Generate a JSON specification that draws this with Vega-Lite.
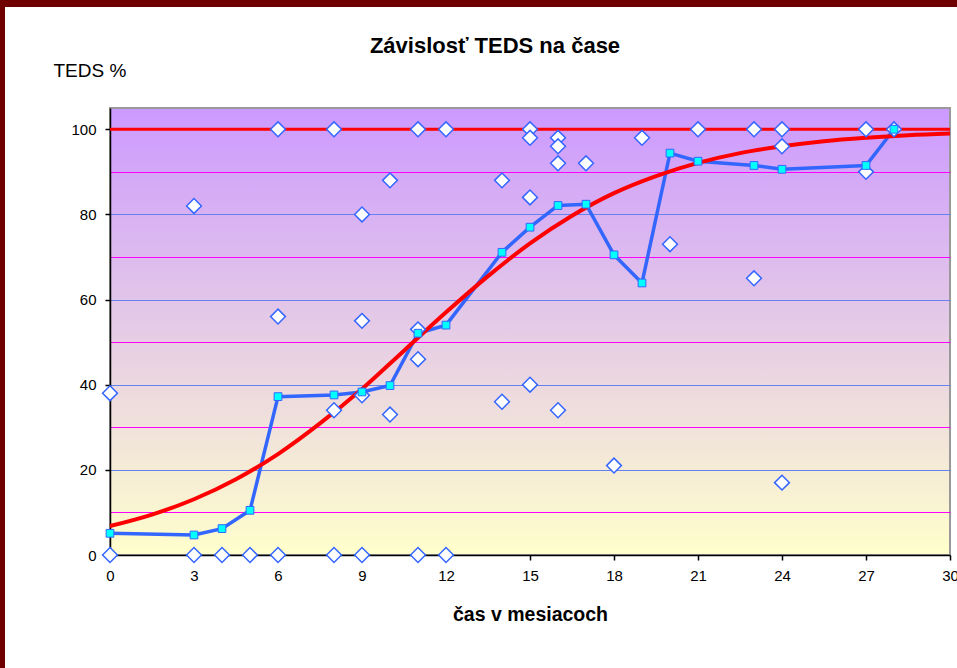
{
  "$schema": "https://vega.github.io/schema/vega-lite/v6.json",
  "padding": 0,
  "background": "white",
  "spacing": 0,
  "config": {"font": "Liberation Sans", "view": {"stroke": null}},
  "datasets": {
    "raw": [
      {"t":0,"v":0},{"t":0,"v":38},{"t":3,"v":82},{"t":3,"v":0},{"t":4,"v":0},{"t":5,"v":0},
      {"t":6,"v":100},{"t":6,"v":56},{"t":6,"v":0},{"t":8,"v":100},{"t":8,"v":34},{"t":8,"v":0},
      {"t":9,"v":80},{"t":9,"v":55},{"t":9,"v":37.5},{"t":9,"v":0},{"t":10,"v":88},{"t":10,"v":33},
      {"t":11,"v":100},{"t":11,"v":53},{"t":11,"v":46},{"t":11,"v":0},{"t":12,"v":100},{"t":12,"v":0},
      {"t":14,"v":88},{"t":14,"v":36},{"t":15,"v":100},{"t":15,"v":98},{"t":15,"v":84},{"t":15,"v":40},
      {"t":16,"v":98},{"t":16,"v":96},{"t":16,"v":92},{"t":16,"v":34},{"t":17,"v":92},{"t":18,"v":21},
      {"t":19,"v":98},{"t":20,"v":73},{"t":21,"v":100},{"t":23,"v":100},{"t":23,"v":65},
      {"t":24,"v":100},{"t":24,"v":96},{"t":24,"v":17},{"t":27,"v":100},{"t":27,"v":90},{"t":28,"v":100}
    ],
    "avg": [
      {"t":0,"v":5.1},{"t":3,"v":4.7},{"t":4,"v":6.2},{"t":5,"v":10.5},{"t":6,"v":37.2},{"t":8,"v":37.6},
      {"t":9,"v":38.3},{"t":10,"v":39.8},{"t":11,"v":52.1},{"t":12,"v":54},{"t":14,"v":71.1},{"t":15,"v":77},
      {"t":16,"v":82.1},{"t":17,"v":82.4},{"t":18,"v":70.5},{"t":19,"v":63.9},{"t":20,"v":94.4},{"t":21,"v":92.5},
      {"t":23,"v":91.5},{"t":24,"v":90.6},{"t":27,"v":91.5},{"t":28,"v":100}
    ],
    "fit": [
      {"t":0,"v":6.8},{"t":1.5,"v":9.5},{"t":3,"v":13.1},{"t":4.5,"v":17.8},{"t":6,"v":23.7},{"t":7.5,"v":30.9},
      {"t":9,"v":39.0},{"t":10.5,"v":48.0},{"t":12,"v":57.0},{"t":13.5,"v":65.5},{"t":15,"v":73.2},{"t":16.5,"v":79.7},
      {"t":18,"v":85.0},{"t":19.5,"v":89.0},{"t":21,"v":92.1},{"t":22.5,"v":94.4},{"t":24,"v":96.0},{"t":25.5,"v":97.2},
      {"t":27,"v":98.0},{"t":28.5,"v":98.6},{"t":30,"v":99.0}
    ],
    "limit": [{"v":100}]
  },
  "vconcat": [
    {
      "width": 957, "height": 7,
      "data": {"values": [{}]},
      "mark": {"type": "rect", "color": "#700000"},
      "view": {"fill": "#700000", "stroke": null}
    },
    {
      "spacing": 47,
      "hconcat": [
        {
          "width": 5, "height": 661,
          "data": {"values": [{}]},
          "mark": {"type": "rect", "color": "#700000"},
          "view": {"fill": "#700000", "stroke": null}
        },
        {
          "spacing": 26,
          "vconcat": [
            {
              "width": 840, "height": 1,
              "data": {"values": [{}]},
              "mark": {"type": "rect", "opacity": 0},
              "view": {"fill": null, "stroke": null}
            },
            {
              "width": 840, "height": 447,
              "title": {"text": "Závislosť TEDS na čase", "fontSize": 22, "fontWeight": "bold", "font": "Liberation Sans", "anchor": "middle", "frame": "group", "dx": -35, "offset": -14, "baseline": "alphabetic", "color": "black"},
              "view": {
                "fill": {"gradient": "linear", "x1": 0, "y1": 0, "x2": 0, "y2": 1, "stops": [{"offset": 0, "color": "#cc99ff"}, {"offset": 1, "color": "#ffffcc"}]},
                "stroke": "#999999", "strokeWidth": 2
              },
              "layer": [
                {
                  "data": {"name": "avg"},
                  "mark": {"type": "line", "color": "#3366ff", "strokeWidth": 3.5},
                  "encoding": {
                    "x": {"field": "t", "type": "quantitative", "scale": {"domain": [0, 30], "nice": false, "zero": false},
                      "axis": {"title": "čas v mesiacoch", "values": [0,3,6,9,12,15,18,21,24,27,30], "grid": false,
                        "domainColor": "black", "domainWidth": 1.5, "tickColor": "black", "tickSize": 5, "tickWidth": 1.5,
                        "labelFontSize": 15, "labelPadding": 8, "labelColor": "black", "labelFlush": false, "labelOverlap": false,
                        "titleFontSize": 19.5, "titleFontWeight": "bold", "titleColor": "black", "titleY": 65, "titleBaseline": "alphabetic"}},
                    "y": {"field": "v", "type": "quantitative", "scale": {"domain": [0, 105], "nice": false},
                      "axis": {"title": "TEDS %", "values": [0,10,20,30,40,50,60,70,80,90,100],
                        "labelExpr": "datum.value % 20 === 0 ? datum.label : ''",
                        "tickOpacity": {"condition": {"test": "datum.value % 20 === 0", "value": 1}, "value": 0},
                        "grid": true, "gridWidth": 1, "gridOpacity": 1,
                        "gridColor": {"condition": {"test": "datum.value % 20 === 0", "value": "#6482f0"}, "value": "#ff00ff"},
                        "domainColor": "black", "domainWidth": 1.5, "tickColor": "black", "tickSize": 5, "tickWidth": 1.5,
                        "labelFontSize": 15, "labelPadding": 9, "labelColor": "black", "labelFlush": false, "labelOverlap": false,
                        "titleAngle": 0, "titleX": -57, "titleY": -32, "titleAlign": "left", "titleBaseline": "alphabetic",
                        "titleFontWeight": "normal", "titleFontSize": 19, "titleColor": "black"}}
                  }
                },
                {
                  "data": {"name": "fit"},
                  "mark": {"type": "line", "color": "#ff0000", "strokeWidth": 4, "interpolate": "monotone"},
                  "encoding": {"x": {"field": "t", "type": "quantitative"}, "y": {"field": "v", "type": "quantitative"}}
                },
                {
                  "data": {"name": "limit"},
                  "mark": {"type": "rule", "color": "#ff0000", "strokeWidth": 3},
                  "encoding": {"y": {"field": "v", "type": "quantitative"}}
                },
                {
                  "data": {"name": "raw"},
                  "mark": {"type": "point", "shape": "diamond", "filled": true, "fill": "white", "stroke": "#3366ff", "strokeWidth": 1.5, "size": 220, "opacity": 1},
                  "encoding": {"x": {"field": "t", "type": "quantitative"}, "y": {"field": "v", "type": "quantitative"}}
                },
                {
                  "data": {"name": "avg"},
                  "mark": {"type": "point", "shape": "square", "filled": true, "fill": "#00ffff", "stroke": "#3366ff", "strokeWidth": 1, "size": 60, "opacity": 1},
                  "encoding": {"x": {"field": "t", "type": "quantitative"}, "y": {"field": "v", "type": "quantitative"}}
                }
              ]
            }
          ]
        }
      ]
    }
  ]
}
